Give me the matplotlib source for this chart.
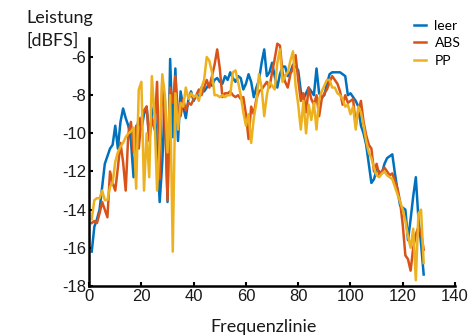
import numpy as np
import matplotlib
matplotlib.use('Agg')
import matplotlib.pyplot as plt

# Frequenzlinien 1..128
freq_line = np.arange(1, 129)

leer = [
    -16.2, -14.9, -14.5, -14.0, -12.8, -11.6, -11.2, -10.8, -10.6, -9.6,
    -10.8, -9.4, -8.7, -9.2, -9.6, -10.4, -12.3, -10.0, -9.2, -9.8,
    -9.0, -8.6, -10.2, -9.0, -8.5, -10.8, -13.6, -11.5, -8.2, -13.6,
    -6.1, -10.2, -6.6, -10.4, -7.8, -8.6, -9.2, -8.2, -7.8, -8.3,
    -8.0, -8.1, -7.6, -7.8, -7.6, -7.4, -7.5, -7.2, -7.1, -7.3,
    -7.4, -7.0, -7.2, -6.8, -7.1, -7.3, -7.0, -7.1, -7.7, -7.4,
    -6.9, -7.3, -8.1, -7.6, -7.2, -6.3, -5.6, -7.0, -6.8, -6.3,
    -7.0, -7.6, -6.9, -6.5, -6.5, -7.0, -6.8, -6.4, -6.5, -6.7,
    -7.8, -8.2, -7.9, -7.6, -7.8, -8.0, -6.6, -7.9, -8.1, -8.0,
    -7.4, -6.9, -6.8, -6.8, -6.8, -6.8, -6.9, -7.0, -8.0, -7.9,
    -8.1, -8.3, -8.6, -9.6, -10.0, -10.6, -11.6, -12.6, -12.4, -11.9,
    -12.0, -12.1, -11.6, -11.3, -11.2, -11.1, -12.1, -13.0, -13.8, -13.9,
    -14.0, -15.6, -14.5, -13.3, -12.3, -14.5, -15.8, -17.4,
]

abs_ = [
    -14.7, -14.6, -14.7, -14.2, -13.6, -14.0, -14.4, -12.0, -12.6, -13.0,
    -11.8, -10.5, -11.5, -13.0, -10.0, -9.4, -11.0, -9.6, -10.8, -9.2,
    -8.8, -8.6, -10.4, -9.2, -9.8, -7.3, -12.4, -7.2, -9.0, -13.5,
    -7.6, -8.4, -7.0, -9.0, -9.1, -8.2, -8.8, -8.4, -8.5, -8.2,
    -8.0, -7.7, -8.0, -7.6, -7.2, -7.6, -7.0, -6.4, -5.6, -6.6,
    -8.1, -7.9, -7.9, -7.8, -8.0, -8.1, -8.0, -8.2, -8.1, -9.0,
    -10.3, -8.6, -9.0, -8.2, -7.8, -7.7, -7.5, -7.3, -7.6, -6.8,
    -6.1, -5.3, -5.4, -6.8, -7.3, -7.6, -6.9, -6.6, -5.9, -7.2,
    -8.3, -7.9, -8.9, -7.6, -8.2, -8.5, -8.0, -9.1, -8.2, -7.9,
    -7.7, -7.3, -7.0, -7.2, -7.4, -7.8, -8.5, -8.0, -8.4, -8.3,
    -8.2, -9.6, -8.8, -8.3, -9.4, -10.1, -10.6, -10.8, -12.0, -11.6,
    -12.2, -12.0, -11.8, -12.0, -12.2, -12.1, -12.5, -12.9, -13.6, -14.8,
    -16.4, -16.6, -17.2, -16.0, -15.3, -14.9, -15.2, -16.1,
]

pp = [
    -14.5, -13.5, -13.4, -13.4, -13.0, -13.5, -13.5, -12.8, -12.6, -11.5,
    -11.0, -10.7, -10.5, -10.2, -10.0, -9.9, -9.7, -12.9, -7.7, -7.3,
    -13.0, -10.0, -12.3, -7.0, -9.0, -13.0, -10.5, -6.9, -8.0, -11.0,
    -8.0, -16.2, -7.9, -9.8, -8.4, -8.6, -7.6, -8.2, -7.9, -8.1,
    -8.0, -8.3, -7.6, -7.2, -6.0, -6.2, -6.8, -8.0, -8.0, -8.1,
    -8.0, -8.1, -8.0, -8.0, -6.8, -6.7, -7.3, -8.0, -8.9, -9.6,
    -9.0, -10.5, -9.2, -8.4, -6.9, -7.6, -9.1, -8.0, -7.3, -7.5,
    -7.7, -6.3, -5.6, -7.3, -7.0, -6.8, -6.2, -5.7, -7.5, -8.5,
    -9.8, -8.3, -10.0, -8.5, -9.3, -8.4, -9.8, -8.2, -7.8, -7.5,
    -7.2, -7.2, -7.6, -7.6, -7.9, -8.0, -8.2, -8.6, -8.5, -9.0,
    -8.6, -9.8, -8.6, -8.9, -9.6, -10.4, -11.0, -11.3, -11.8, -12.2,
    -12.3, -12.1, -12.0, -12.2, -12.3, -12.4, -12.8, -13.2, -13.6, -14.0,
    -14.6, -15.4, -16.0, -15.0, -17.7, -14.2, -14.0, -16.8,
]

series_names = ['leer', 'ABS', 'PP']
colors = ['#0072BD', '#D95319', '#EDB120']

x_ticks = [0, 20, 40, 60, 80, 100, 120, 140]
y_ticks = [-18, -16, -14, -12, -10, -8, -6]

plt.rcParams['axes.unicode_minus'] = False

fig = plt.figure(figsize=(4.74, 3.36), dpi=100)
ax = fig.add_axes([0.188, 0.149, 0.772, 0.738])

for values, name, color in zip([leer, abs_, pp], series_names, colors):
    ax.plot(freq_line, values, color=color, linewidth=1.8, label=name)

ax.set_xlim(0, 140)
ax.set_ylim(-18, -5)
ax.set_xticks(x_ticks)
ax.set_yticks(y_ticks)
ax.set_xticklabels([str(t) for t in x_ticks], fontsize=12,
                   family='Liberation Sans', color='#1a1a1a')
ax.set_yticklabels([str(t) for t in y_ticks], fontsize=12,
                   family='Liberation Sans', color='#1a1a1a')
ax.tick_params(direction='in', length=3, width=1.5, pad=2)

# box off, like MATLAB
for side in ['top', 'right']:
    ax.spines[side].set_visible(False)
for side in ['left', 'bottom']:
    ax.spines[side].set_linewidth(1.8)

# labels
fig.text(0.555, 0.027, 'Frequenzlinie', ha='center', va='center',
         fontsize=13, family='Lato', color='#1a1a1a')
fig.text(0.055, 0.945, 'Leistung', ha='left', va='center',
         fontsize=13, family='Lato', color='#1a1a1a')
fig.text(0.055, 0.878, '[dBFS]', ha='left', va='center',
         fontsize=13, family='Lato', color='#1a1a1a')

# legend without frame in the top right corner
leg = fig.legend(loc='upper left', bbox_to_anchor=(0.858, 0.962),
                 frameon=False, fontsize=10, handlelength=0.9,
                 handletextpad=0.6, labelspacing=0.4, borderpad=0)
for text in leg.get_texts():
    text.set_family('Lato')

fig.savefig('out.png', dpi=100)
